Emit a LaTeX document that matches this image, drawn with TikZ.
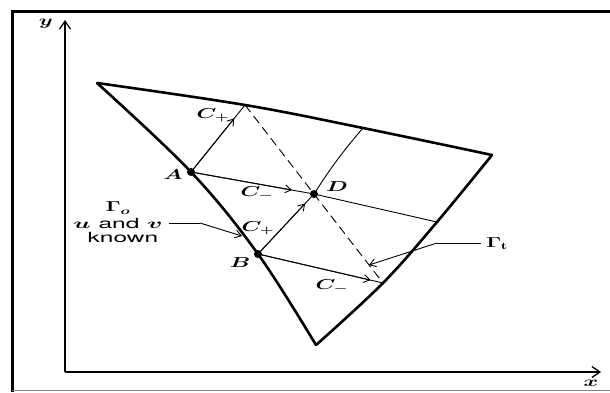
\documentclass[tikz,border=0pt]{standalone}
\usepackage{fontspec}
\setsansfont{TeX Gyre Heros}
\usepackage{graphicx}
\usetikzlibrary{arrows.meta,calc}
\newcommand{\hstr}[1]{\scalebox{1.55}[1]{#1}}
\newcommand{\hstw}[1]{\scalebox{1.75}[1]{#1}}
\begin{document}
\begin{tikzpicture}[x=1pt,y=-1pt,
  bnd/.style={line width=2.6pt,line cap=round,line join=round},
  chr/.style={line width=0.9pt},
  tip/.style={-{Straight Barb[length=6pt,width=8pt,line width=0.9pt]}},
  axis/.style={line width=1.8pt,-{Straight Barb[length=8pt,width=11pt,line width=1.3pt]}},
  lbl/.style={font=\fontsize{14}{16}\selectfont\boldmath,inner sep=0pt},
  dot/.style={circle,fill,inner sep=0pt,minimum size=8pt}]
\useasboundingbox (0,0) rectangle (610,392);
% frame
\draw[line width=3pt] (12,392) -- (12,11.5) -- (610,11.5);
\draw[gray,line width=1.5pt] (12,390.5) -- (610,390.5);
% axes
\coordinate (O) at (65,372);
\coordinate (Ytop) at (65,20);
\coordinate (Xend) at (601,372);
\draw[axis] (O) -- (Ytop);
\draw[axis] (O) -- (Xend);
\node[lbl] (ylab) at (46,24) {\hstr{$y$}};
\node[lbl] (xlab) at (591,383) {\hstr{$x$}};
% points
\coordinate (P0) at (97,83);
\coordinate (T1) at (245,105);
\coordinate (T2) at (363,128);
\coordinate (P1) at (492,155);
\coordinate (G1) at (437,222);
\coordinate (G2) at (383,283);
\coordinate (P2) at (316,345);
\coordinate (A) at (191,172);
\coordinate (B) at (258,254);
\coordinate (D) at (314,194);
% boundaries
\draw[bnd] plot[smooth,tension=0.6] coordinates {(P0) (T1) (T2) (P1)};
\draw[bnd] plot[smooth,tension=0.6] coordinates {(P0) (A) (B) (P2)};
\draw[bnd] plot[smooth,tension=0.6] coordinates {(P1) (G1) (G2) (P2)};
% dashed
\draw[chr,dash pattern=on 9pt off 5pt] (T1) -- (D) -- (G2);
% characteristics
\draw[chr] (A) -- (T1);
\draw[chr,tip] (A) -- ($(A)!0.8!(T1)$);
\draw[chr] (A) -- (D);
\draw[chr,tip] (A) -- ($(A)!0.82!(D)$);
\draw[chr] (B) -- (D);
\draw[chr,tip] (B) -- ($(B)!0.84!(D)$);
\draw[chr] (B) -- (G2);
\draw[chr,tip] (B) -- ($(B)!0.9!(G2)$);
\draw[chr] (D) -- (G1);
\draw[chr] (D) to[bend left=4] (T2);
% dots
\node[dot] (Ad) at (A) {};
\node[dot] (Bd) at (B) {};
\node[dot] (Dd) at (D) {};
% labels
\node[lbl] (Alab) at (173,175) {\hstr{$A$}};
\node[lbl] (Blab) at (240,263) {\hstr{$B$}};
\node[lbl] (Dlab) at (337,187) {\hstr{$D$}};
\node[lbl] (cp1) at (213,115) {\hstr{$C_+$}};
\node[lbl] (cm1) at (257,193) {\hstr{$C_-$}};
\node[lbl] (cp2) at (258,228) {\hstr{$C_+$}};
\node[lbl] (cm2) at (332,286) {\hstr{$C_-$}};
% Gamma_o
\node[lbl] (go) at (118,208) {\hstr{$\Gamma_o$}};
\node[lbl] (uv) at (118,223) {\hstw{$u$ \textsf{\mdseries and} $v$}};
\node[lbl] (kn) at (123,237) {\hstw{\textsf{\mdseries known}}};
\coordinate (L2) at (200,223);
\coordinate (E1) at (242,236);
\draw[chr] ($(uv.east)+(6,0)$) -- (L2);
\draw[chr,tip] (L2) -- (E1);
% Gamma_t
\node[lbl] (gt) at (497,244) {\hstr{$\Gamma_{\mathrm t}$}};
\coordinate (L4) at (437,243);
\coordinate (E2) at (369,265);
\draw[chr] ($(gt.west)+(-5,-1)$) -- (L4);
\draw[chr,tip] (L4) -- (E2);
\end{tikzpicture}
\end{document}
